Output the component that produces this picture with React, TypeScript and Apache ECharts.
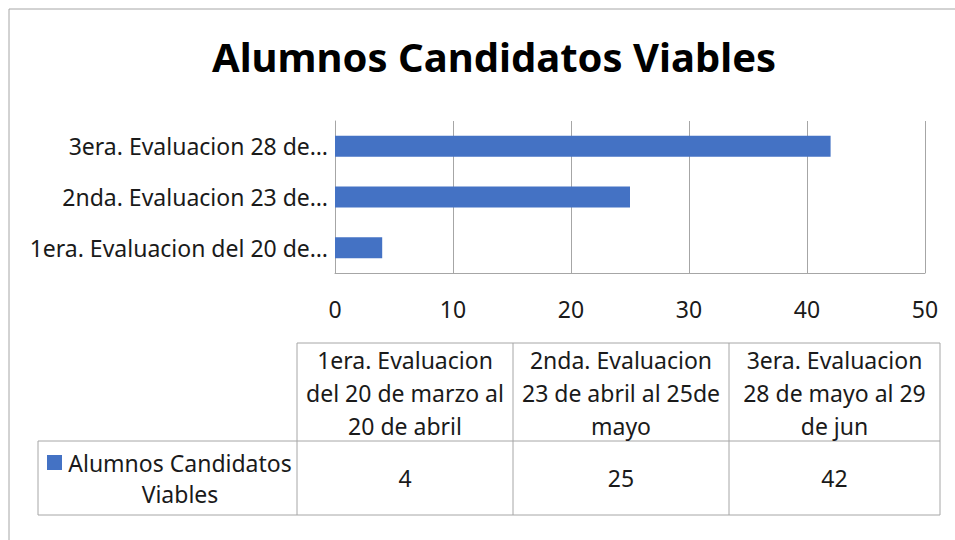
import React, { useEffect, useRef } from "react";
import * as echarts from "echarts";

const title = "Alumnos Candidatos Viables";
const seriesName = "Alumnos Candidatos Viables";
const categories = [
  "1era. Evaluacion del 20 de marzo al 20 de abril",
  "2nda. Evaluacion 23 de abril al 25de mayo",
  "3era. Evaluacion 28 de mayo al 29 de jun",
];
const tickLabels = [
  "1era. Evaluacion del 20 de…",
  "2nda. Evaluacion 23 de…",
  "3era. Evaluacion 28 de…",
];
const headerLines = [
  "1era. Evaluacion\ndel 20 de marzo al\n20 de abril",
  "2nda. Evaluacion\n23 de abril al 25de\nmayo",
  "3era. Evaluacion\n28 de mayo al 29\nde jun",
];
const values = [4, 25, 42];
const xTicks = { min: 0, max: 50, interval: 10 };

const FONT = "Noto Sans";
const BLUE = "#4472C4";
const LINE = "#a6a6a6";
const TEXT = "#1a1a1a";
const FS = 23;

export default function App() {
  const ref = useRef<HTMLDivElement>(null);
  useEffect(() => {
    const chart = echarts.init(ref.current!, null, { renderer: "svg" });
    const colX = [297, 513, 729, 940];
    const rowY = [343, 441, 515];
    const tableLeft = 38;
    const lines: any[] = [];
    const ln = (x1: number, y1: number, x2: number, y2: number) =>
      lines.push({ type: "line", shape: { x1, y1, x2, y2 }, style: { stroke: LINE, lineWidth: 1 }, silent: true });
    ln(colX[0], rowY[0], colX[3], rowY[0]);
    ln(tableLeft, rowY[1], colX[3], rowY[1]);
    ln(tableLeft, rowY[2], colX[3], rowY[2]);
    ln(tableLeft, rowY[1], tableLeft, rowY[2]);
    colX.forEach((x) => ln(x, rowY[0], x, rowY[2]));
    const texts: any[] = [];
    headerLines.forEach((h, i) => {
      texts.push({
        type: "text",
        x: (colX[i] + colX[i + 1]) / 2,
        y: (rowY[0] + rowY[1]) / 2 + 1,
        style: { text: h, font: `${FS}px "${FONT}"`, fill: TEXT, align: "center", verticalAlign: "middle", lineHeight: 33 },
      });
      texts.push({
        type: "text",
        x: (colX[i] + colX[i + 1]) / 2,
        y: (rowY[1] + rowY[2]) / 2,
        style: { text: String(values[i]), font: `${FS}px "${FONT}"`, fill: TEXT, align: "center", verticalAlign: "middle" },
      });
    });
    texts.push({ type: "rect", shape: { x: 47, y: 455, width: 15, height: 15 }, style: { fill: BLUE } });
    texts.push({
      type: "text",
      x: 180,
      y: (rowY[1] + rowY[2]) / 2,
      style: { text: "Alumnos Candidatos\nViables", font: `${FS}px "${FONT}"`, fill: TEXT, align: "center", verticalAlign: "middle", lineHeight: 31 },
    });

    chart.setOption({
      animation: false,
      backgroundColor: "#ffffff",
      title: {
        text: title,
        left: 207,
        top: 31,
        textStyle: { fontFamily: FONT, fontWeight: "bold", fontSize: 40, color: "#000" },
      },
      grid: { left: 335, right: 30, top: 121, bottom: 267, containLabel: false },
      xAxis: {
        type: "value",
        min: xTicks.min,
        max: xTicks.max,
        interval: xTicks.interval,
        axisLine: { show: true, lineStyle: { color: LINE, width: 1 } },
        axisTick: { show: false },
        splitLine: { show: true, lineStyle: { color: LINE, width: 1 } },
        axisLabel: { fontFamily: FONT, fontSize: FS, color: TEXT, margin: 24 },
      },
      yAxis: {
        type: "category",
        data: categories,
        axisLine: { show: true, lineStyle: { color: LINE, width: 1 } },
        axisTick: { show: false },
        axisLabel: {
          fontFamily: FONT,
          fontSize: FS,
          color: TEXT,
          margin: 7,
          formatter: (_v: string, i: number) => tickLabels[i],
        },
      },
      series: [
        {
          name: seriesName,
          type: "bar",
          data: values,
          barWidth: 21,
          itemStyle: { color: BLUE },
        },
      ],
      graphic: [
        {
          type: "polyline",
          shape: { points: [[9, 540], [9, 9], [955, 9]] },
          style: { stroke: "#a6a6a6", lineWidth: 1, fill: "none" },
          silent: true,
        },
        ...lines,
        ...texts,
      ],
    });
    return () => chart.dispose();
  }, []);
  return <div ref={ref} style={{ position: "absolute", left: 0, top: 0, width: 955, height: 540 }} />;
}
